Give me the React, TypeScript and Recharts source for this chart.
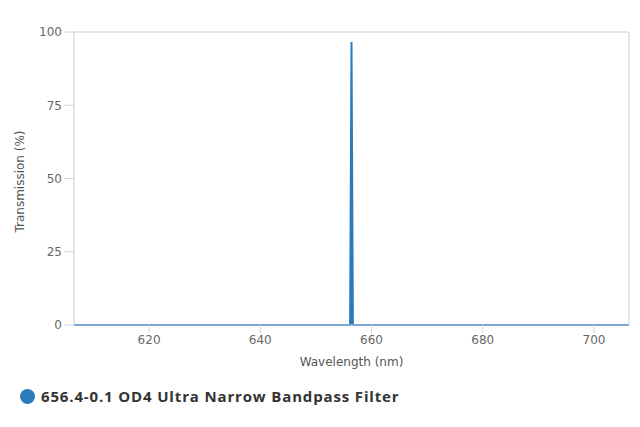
import { ComposedChart, Area, XAxis, YAxis, ReferenceLine } from 'recharts'

const wavelengths = [606.5, 656.15, 656.4, 656.65, 706.3]
const transmission = [0, 0, 96.6, 0, 0]
const xTicks = [620, 640, 660, 680, 700]
const yTicks = [0, 25, 50, 75, 100]
const seriesName = '656.4-0.1 OD4 Ultra Narrow Bandpass Filter'

const data = wavelengths.map((wl, i) => ({ wl, t: transmission[i] }))

const LINE_COLOR = '#2b7bba'
const TICK = { fontSize: 12, fill: '#666', fontFamily: 'DejaVu Sans' }
const LABEL = { fontSize: 12, fill: '#555', fontFamily: 'DejaVu Sans' }

export default function App() {
  return (
    <div style={{ position: 'absolute', left: 0, top: 0, width: 640, height: 427, background: '#fff' }}>
      <ComposedChart width={640} height={380} data={data} margin={{ top: 32, right: 11, bottom: 10, left: 0 }}>
        <XAxis
          dataKey="wl"
          type="number"
          domain={[606.5, 706.3]}
          ticks={xTicks}
          allowDataOverflow
          height={45}
          tick={TICK}
          tickSize={8}
          tickLine={{ stroke: '#ccd6eb' }}
          axisLine={{ stroke: '#ccd6eb' }}
          label={{ value: 'Wavelength (nm)', position: 'insideBottom', offset: 4, style: LABEL }}
        />
        <YAxis
          type="number"
          domain={[0, 100]}
          ticks={yTicks}
          width={74}
          tick={TICK}
          tickSize={10}
          tickLine={{ stroke: '#ccd6eb' }}
          axisLine={{ stroke: '#ccc' }}
          label={{ value: 'Transmission (%)', angle: -90, position: 'insideLeft', offset: 20, dy: 3, style: { ...LABEL, textAnchor: 'middle' } }}
        />
        <ReferenceLine y={100} stroke="#ccc" />
        <ReferenceLine x={706.3} stroke="#ccc" />
        <Area
          type="linear"
          dataKey="t"
          name={seriesName}
          stroke={LINE_COLOR}
          strokeWidth={2}
          fill={LINE_COLOR}
          fillOpacity={1}
          dot={false}
          activeDot={false}
          isAnimationActive={false}
        />
      </ComposedChart>
      <div
        style={{
          position: 'absolute',
          left: 20,
          top: 386,
          display: 'flex',
          alignItems: 'center',
          fontFamily: '"Open Sans", Lato, sans-serif',
          fontWeight: 700,
          fontSize: 15,
          letterSpacing: 0.85,
          color: '#333',
        }}
      >
        <span style={{ width: 15, height: 15, borderRadius: '50%', background: LINE_COLOR, marginRight: 6, display: 'inline-block' }} />
        {seriesName}
      </div>
    </div>
  )
}
